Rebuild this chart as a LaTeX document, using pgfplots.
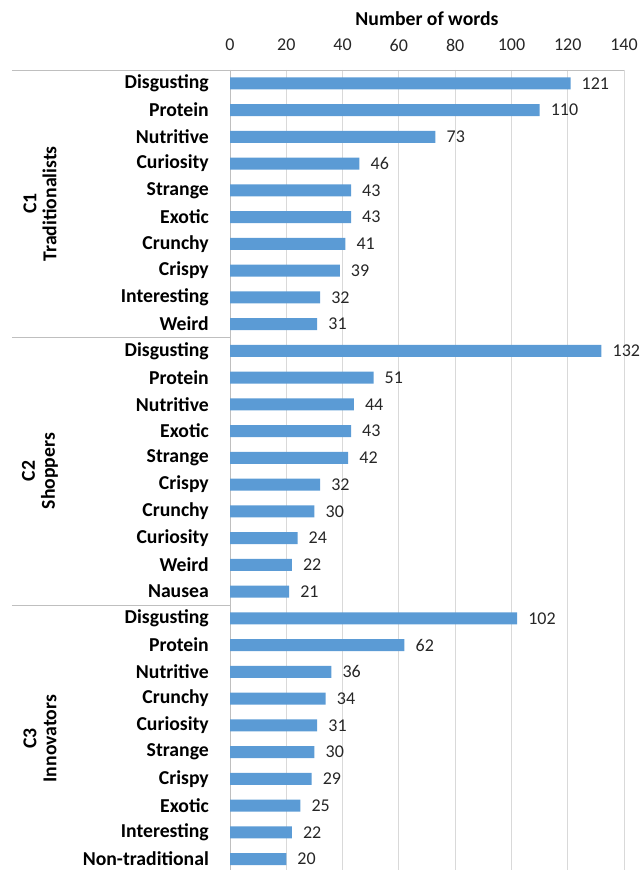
\documentclass[border=0pt]{standalone}
\usepackage{fontspec}
\setmainfont{Carlito}
\usepackage{pgfplots}
\pgfplotsset{compat=1.18}
\definecolor{barblue}{HTML}{5B9BD5}
\definecolor{gridgray}{HTML}{D9D9D9}
\definecolor{linegray}{HTML}{BFBFBF}
\definecolor{txt}{HTML}{262626}
\begin{document}
\begin{tikzpicture}[x=1bp,y=1bp]
\useasboundingbox (0,0) rectangle (640,870);
\begin{axis}[
  at={(230bp,-2.4bp)}, anchor=south west,
  scale only axis, width=394bp, height=802.4bp,
  xbar, bar width=12bp,
  xmin=0, xmax=140, xtick={0,20,...,140},
  ymin=-0.5, ymax=29.5, y dir=reverse,
  ytick={0,...,29},
  yticklabels={Disgusting,Protein,Nutritive,Curiosity,Strange,Exotic,Crunchy,Crispy,Interesting,Weird,
    Disgusting,Protein,Nutritive,Exotic,Strange,Crispy,Crunchy,Curiosity,Weird,Nausea,
    Disgusting,Protein,Nutritive,Crunchy,Curiosity,Strange,Crispy,Exotic,Interesting,Non-traditional},
  axis x line*=top, axis y line*=left,
  axis line style={draw=linegray, line width=0.8bp, -},
  xmajorgrids, grid style={gridgray, line width=0.8bp},
  major tick length=0pt,
  /pgf/number format/assume math mode=true,
  xticklabel style={anchor=center, yshift=25bp, inner sep=0pt, font=\fontsize{18bp}{20bp}\selectfont, text=txt},
  yticklabel style={anchor=east, inner sep=0pt, xshift=-21bp, font=\fontsize{19.7bp}{21bp}\selectfont\bfseries, text=black},
  xlabel={\textbf{Number of words}},
  xlabel style={at={(rel axis cs:0.5,1)}, anchor=center, yshift=51bp, font=\fontsize{19.7bp}{21bp}\selectfont},
  nodes near coords,
  every node near coord/.append style={anchor=west, inner sep=0pt, xshift=11bp, font=\fontsize{18bp}{20bp}\selectfont, text=txt},
  clip=false,
]
\addplot[fill=barblue, draw=none] coordinates {
  (121,0) (110,1) (73,2) (46,3) (43,4) (43,5) (41,6) (39,7) (32,8) (31,9)
  (132,10) (51,11) (44,12) (43,13) (42,14) (32,15) (30,16) (24,17) (22,18) (21,19)
  (102,20) (62,21) (36,22) (34,23) (31,24) (30,25) (29,26) (25,27) (22,28) (20,29)
};
\draw[linegray, line width=0.8bp] ([xshift=-218bp]axis cs:0,-0.5) -- (axis cs:0,-0.5);
\draw[linegray, line width=0.8bp] ([xshift=-218bp]axis cs:0,9.5) -- (axis cs:0,9.5);
\draw[linegray, line width=0.8bp] ([xshift=-218bp]axis cs:0,19.5) -- (axis cs:0,19.5);
\draw[linegray, line width=0.8bp] ([xshift=-218bp]axis cs:0,29.5) -- (axis cs:0,29.5);
\node[rotate=90, align=center, font=\fontsize{19.7bp}{20bp}\selectfont\bfseries] at ([xshift=-190bp]axis cs:0,4.5) {C1\\Traditionalists};
\node[rotate=90, align=center, font=\fontsize{19.7bp}{20bp}\selectfont\bfseries] at ([xshift=-190bp]axis cs:0,14.5) {C2\\Shoppers};
\node[rotate=90, align=center, font=\fontsize{19.7bp}{20bp}\selectfont\bfseries] at ([xshift=-190bp]axis cs:0,24.5) {C3\\Innovators};
\end{axis}
\end{tikzpicture}
\end{document}
